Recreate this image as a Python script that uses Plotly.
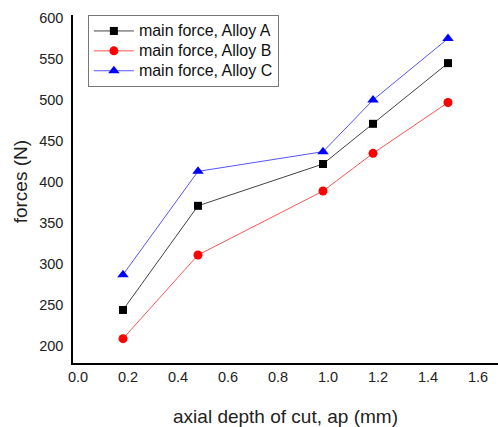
import plotly.graph_objects as go

# axial depth of cut (mm)
depth = [0.18, 0.48, 0.98, 1.18, 1.48]

# main cutting force (N) per alloy
force_a = [244, 371, 422, 471, 545]
force_b = [209, 311, 389, 435, 497]
force_c = [287, 413, 437, 500, 575]

series_names = ["main force, Alloy A", "main force, Alloy B", "main force, Alloy C"]

x_ticks = [0.0, 0.2, 0.4, 0.6, 0.8, 1.0, 1.2, 1.4, 1.6]
y_ticks = [200, 250, 300, 350, 400, 450, 500, 550, 600]

styles = [
    dict(color="black", symbol="square", size=8, line="#444444"),
    dict(color="red", symbol="circle", size=9, line="#ff5555"),
    dict(color="blue", symbol="triangle-up", size=10, line="#5555ff"),
]

fig = go.Figure()
for name, ys, st in zip(series_names, [force_a, force_b, force_c], styles):
    fig.add_trace(go.Scatter(
        x=depth, y=ys,
        # larger legend text on compact legend rows
        name=f"<span style='font-size:16px'>{name}</span>",
        mode="lines+markers",
        line=dict(color=st["line"], width=1),
        marker=dict(color=st["color"], symbol=st["symbol"], size=st["size"]),
    ))

font_family = "Liberation Sans, Arial, sans-serif"

fig.update_layout(
    width=498, height=427,
    margin=dict(l=73, r=0, t=15, b=64),
    paper_bgcolor="white", plot_bgcolor="white",
    font=dict(family=font_family, size=14.5, color="#222222"),
    showlegend=True,
    legend=dict(
        x=0.035, y=1.0, xanchor="left", yanchor="top",
        bgcolor="white", bordercolor="#777777", borderwidth=1,
        font=dict(size=13, color="#111111"),
        tracegroupgap=0, itemwidth=40,
    ),
    xaxis=dict(
        range=[-0.02, 1.68], tickvals=x_ticks,
        ticktext=[f"{v:.1f}" for v in x_ticks],
        showgrid=False, zeroline=False,
        showline=True, linecolor="black", linewidth=1.5,
        ticks="", ticklen=0,
        title=dict(text="axial depth of cut, ap (mm)", font=dict(size=19, color="#222222"), standoff=26),
    ),
    yaxis=dict(
        range=[179.3, 603.7], tickvals=y_ticks,
        showgrid=False, zeroline=False,
        showline=True, linecolor="black", linewidth=1.5,
        ticks="", ticklen=0, ticklabelstandoff=5,
    ),
    annotations=[dict(
        text="forces (N)", textangle=-90,
        xref="paper", yref="paper", x=-0.124, y=0.52,
        xanchor="center", yanchor="middle", showarrow=False,
        font=dict(size=19, color="#222222"),
    )],
)

fig.write_html("out.html")
